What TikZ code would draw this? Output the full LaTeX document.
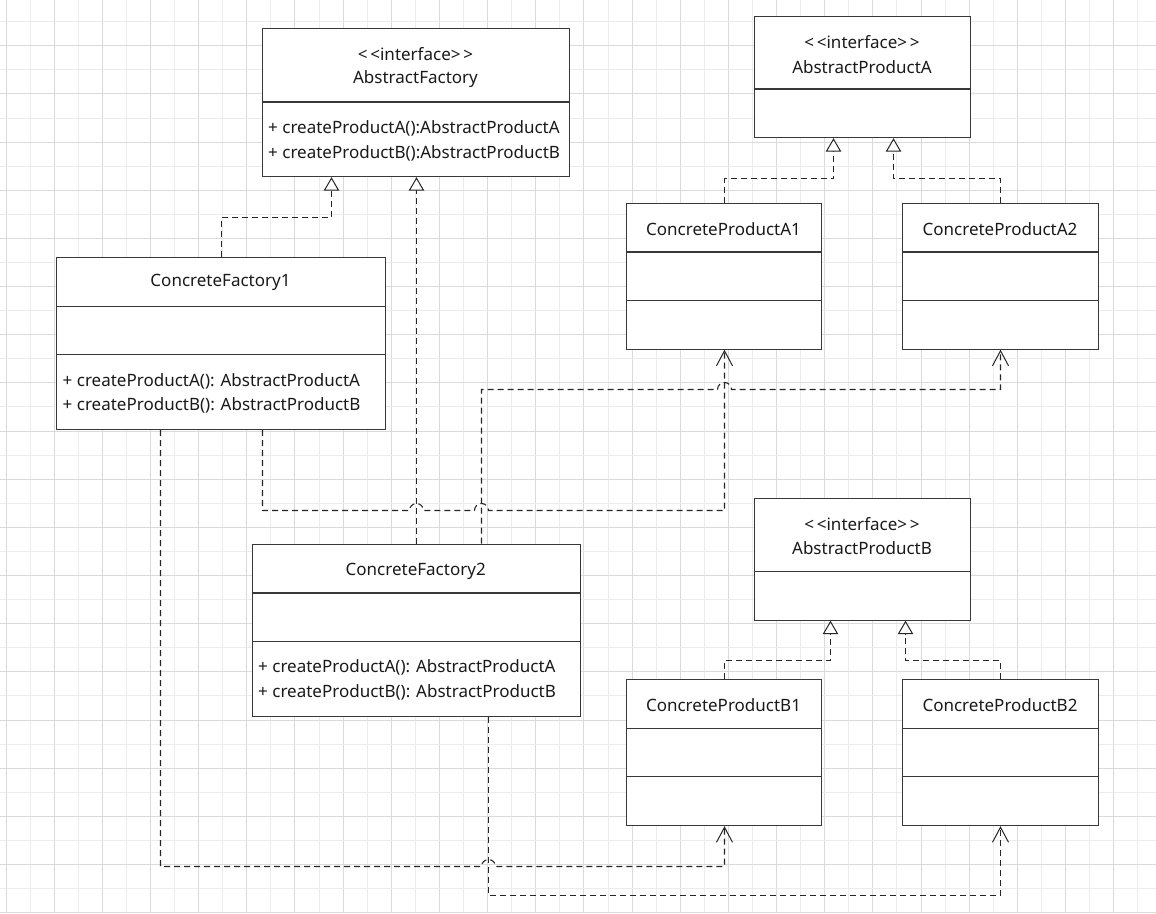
\documentclass[tikz,border=0pt]{standalone}
\usepackage{fontspec}
\setmainfont{Noto Sans}
\usetikzlibrary{arrows.meta}
\definecolor{gridmajor}{HTML}{DADADA}
\definecolor{gridminor}{HTML}{ECECEC}
\definecolor{boxline}{HTML}{383838}
\definecolor{txt}{HTML}{1A1A1A}
\tikzset{
  umlbox/.style={draw=boxline, line width=1.2pt, fill=white, inner sep=0pt, anchor=north west},
  divider/.style={draw=boxline, line width=1.2pt},
  title/.style={text=txt, font=\fontsize{17}{20}\selectfont, inner sep=0pt, anchor=center},
  member/.style={text=txt, font=\fontsize{17}{20}\selectfont, inner sep=0pt, anchor=west},
  link/.style={draw=black!85, line width=1.1pt, dash pattern=on 6pt off 4pt},
  realize/.style={link, -{Triangle[open, length=13.5pt, width=15.5pt, line width=1pt, fill=white]}},
  depend/.style={link, -{Straight Barb[length=15pt, width=16pt, line width=1pt]}},
}
\begin{document}
\begin{tikzpicture}[x=1pt, y=-1pt]
\useasboundingbox (0,0) rectangle (1156,913);
\fill[white] (0,0) rectangle (1156,913);
% grid
\begin{scope}
\clip (0,0) rectangle (1156,913);
\foreach \i in {0,...,47} {
  \pgfmathsetmacro{\gx}{6+\i*24.08}
  \pgfmathtruncatemacro{\gpar}{mod(\i,2)}
  \ifnum\gpar=0
    \draw[gridmajor, line width=1pt] (\gx,0) -- (\gx,913);
  \else
    \draw[gridminor, line width=1pt] (\gx,0) -- (\gx,913);
  \fi
}
\foreach \j in {0,...,37} {
  \pgfmathsetmacro{\gy}{21.7+\j*24.08}
  \pgfmathtruncatemacro{\gpar}{mod(\j,2)}
  \ifnum\gpar=1
    \draw[gridmajor, line width=1pt] (0,\gy) -- (1156,\gy);
  \else
    \draw[gridminor, line width=1pt] (0,\gy) -- (1156,\gy);
  \fi
}
\end{scope}

% ---------- boxes ----------
% AbstractFactory
\node[umlbox, minimum width=307pt, minimum height=148pt] (af) at (262,28) {};
\draw[divider] (262,102) -- (569,102);
\node[title] (aft1) at (415.5,54) {<\,<interface>\,>};
\node[title] (aft2) at (415.5,79) {AbstractFactory};
\node[member] (afm1) at (268,128.5) {+ createProductA():AbstractProductA};
\node[member] (afm2) at (268,153) {+ createProductB():AbstractProductB};

% AbstractProductA
\node[umlbox, minimum width=216pt, minimum height=121pt] (apa) at (754,16) {};
\draw[divider] (754,89) -- (970,89);
\node[title] (apat1) at (862,42.5) {<\,<interface>\,>};
\node[title] (apat2) at (862,67) {AbstractProductA};

% ConcreteProductA1
\node[umlbox, minimum width=195pt, minimum height=146pt] (cpa1) at (626,202.5) {};
\draw[divider] (626,252) -- (821,252);
\draw[divider] (626,300.5) -- (821,300.5);
\node[title] (cpa1t) at (723.5,229) {ConcreteProductA1};

% ConcreteProductA2
\node[umlbox, minimum width=196pt, minimum height=146pt] (cpa2) at (902,202.5) {};
\draw[divider] (902,252) -- (1098,252);
\draw[divider] (902,300.5) -- (1098,300.5);
\node[title] (cpa2t) at (1000,229) {ConcreteProductA2};

% ConcreteFactory1
\node[umlbox, minimum width=329pt, minimum height=172pt] (cf1) at (56,257) {};
\draw[divider] (56,306.5) -- (385,306.5);
\draw[divider] (56,354.5) -- (385,354.5);
\node[title] (cf1t) at (220.5,282) {ConcreteFactory1};
\node[member] (cf1m1) at (62.5,381.5) {+ createProductA(): AbstractProductA};
\node[member] (cf1m2) at (62.5,405.5) {+ createProductB(): AbstractProductB};

% ConcreteFactory2
\node[umlbox, minimum width=328.5pt, minimum height=172pt] (cf2) at (251.5,543.5) {};
\draw[divider] (251.5,593) -- (580,593);
\draw[divider] (251.5,641.5) -- (580,641.5);
\node[title] (cf2t) at (415.7,571) {ConcreteFactory2};
\node[member] (cf2m1) at (258,667) {+ createProductA(): AbstractProductA};
\node[member] (cf2m2) at (258,692.5) {+ createProductB(): AbstractProductB};

% AbstractProductB
\node[umlbox, minimum width=216.5pt, minimum height=122pt] (apb) at (753.5,497.5) {};
\draw[divider] (753.5,571.5) -- (970,571.5);
\node[title] (apbt1) at (862,524) {<\,<interface>\,>};
\node[title] (apbt2) at (862,548.5) {AbstractProductB};

% ConcreteProductB1
\node[umlbox, minimum width=195pt, minimum height=146pt] (cpb1) at (626,679) {};
\draw[divider] (626,728.5) -- (821,728.5);
\draw[divider] (626,776.5) -- (821,776.5);
\node[title] (cpb1t) at (723.5,705) {ConcreteProductB1};

% ConcreteProductB2
\node[umlbox, minimum width=196pt, minimum height=146pt] (cpb2) at (902,679) {};
\draw[divider] (902,728.5) -- (1098,728.5);
\draw[divider] (902,776.5) -- (1098,776.5);
\node[title] (cpb2t) at (1000,705) {ConcreteProductB2};

% ---------- realizations ----------
\draw[realize] ([xshift=165.5pt]cf1.north west) |- (331.5,217.5) -- ([xshift=69.5pt]af.south west);
\draw[realize] ([xshift=165pt]cf2.north west) -- ([xshift=154.5pt]af.south west);
\draw[realize] ([xshift=98.5pt]cpa1.north west) |- (833.5,178.5) -- ([xshift=79.5pt]apa.south west);
\draw[realize] ([xshift=98.5pt]cpa2.north west) |- (893.5,178.5) -- ([xshift=139.5pt]apa.south west);
\draw[realize] ([xshift=98.5pt]cpb1.north west) |- (830.5,660.5) -- ([xshift=77pt]apb.south west);
\draw[realize] ([xshift=98.5pt]cpb2.north west) |- (905.5,660.5) -- ([xshift=152pt]apb.south west);

% ---------- dependencies ----------
\draw[depend] ([xshift=206.5pt]cf1.south west) -- (262.5,510.5) -- (409.5,510.5)
   arc[start angle=180, end angle=360, radius=7] -- (474.5,510.5)
   arc[start angle=180, end angle=360, radius=7] -- (724.5,510.5) -- ([xshift=98.5pt]cpa1.south west);
\draw[depend] ([xshift=230pt]cf2.north west) -- (481.5,389.5) -- (717.5,389.5)
   arc[start angle=180, end angle=360, radius=7] -- (1000.5,389.5) -- ([xshift=98.5pt]cpa2.south west);
\draw[depend] ([xshift=104.5pt]cf1.south west) -- (160.5,866.5) -- (481.5,866.5)
   arc[start angle=180, end angle=360, radius=7] -- (724.5,866.5) -- ([xshift=98.5pt]cpb1.south west);
\draw[depend] ([xshift=237pt]cf2.south west) -- (488.5,895.5) -- (1000.5,895.5) -- ([xshift=98.5pt]cpb2.south west);
\end{tikzpicture}
\end{document}
